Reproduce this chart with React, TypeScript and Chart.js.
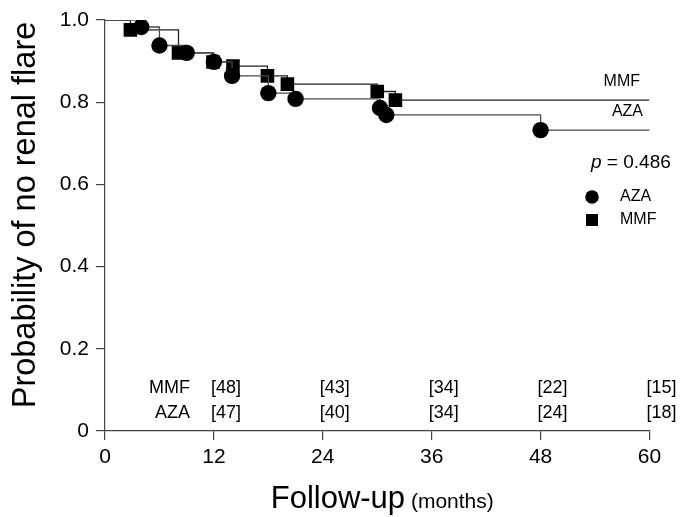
import React, { useEffect, useRef } from "react";
import { Chart, registerables } from "chart.js";

Chart.register(...registerables);

// Kaplan-Meier steps (months, survival probability)
const azaMonths = [0, 4, 6, 9, 12, 14, 18, 21, 30.3, 31, 48, 60];
const azaSurv = [1, 0.983, 0.938, 0.92, 0.898, 0.864, 0.822, 0.808, 0.786, 0.769, 0.732, 0.732];
const mmfMonths = [0, 2.8, 8.1, 11.9, 14.1, 17.9, 20.1, 30, 32, 60];
const mmfSurv = [1, 0.976, 0.92, 0.898, 0.888, 0.864, 0.844, 0.826, 0.805, 0.805];

// Numbers at risk
const riskMonths = [12, 24, 36, 48, 60];
const mmfAtRisk = [48, 43, 34, 22, 15];
const azaAtRisk = [47, 40, 34, 24, 18];

const xTicks = [0, 12, 24, 36, 48, 60];
const yTicks = [0, 0.2, 0.4, 0.6, 0.8, 1.0];
const pValue = "0.486";

const FONT = '"Liberation Sans", Arial, Helvetica, sans-serif';

const textPlugin = {
  id: "kmText",
  afterDraw(chart: any) {
    const ctx = chart.ctx;
    const xs = chart.scales.x;
    const ys = chart.scales.y;
    ctx.save();
    ctx.fillStyle = "#000";

    // y axis title
    ctx.save();
    ctx.translate(26, 215);
    ctx.rotate(-Math.PI / 2);
    ctx.font = `32.5px ${FONT}`;
    ctx.textAlign = "center";
    ctx.textBaseline = "middle";
    ctx.fillText("Probability of no renal flare", 0, 0);
    ctx.restore();

    // x axis title (mixed sizes)
    const big = "Follow-up";
    const small = " (months)";
    ctx.font = `31px ${FONT}`;
    const wBig = ctx.measureText(big).width;
    ctx.font = `21px ${FONT}`;
    const wSmall = ctx.measureText(small).width;
    const cx = (chart.chartArea.left + chart.chartArea.right) / 2 + 5;
    const startX = cx - (wBig + wSmall) / 2;
    const baseY = 508;
    ctx.textBaseline = "alphabetic";
    ctx.textAlign = "left";
    ctx.font = `31px ${FONT}`;
    ctx.fillText(big, startX, baseY);
    ctx.font = `21px ${FONT}`;
    ctx.fillText(small, startX + wBig, baseY);

    // at-risk table
    ctx.font = `18px ${FONT}`;
    ctx.textBaseline = "middle";
    ctx.textAlign = "right";
    ctx.fillText("MMF", 190, 388);
    ctx.fillText("AZA", 190, 413);
    ctx.textAlign = "left";
    riskMonths.forEach((m, i) => {
      const px = xs.getPixelForValue(m) - 3;
      ctx.fillText(`[${mmfAtRisk[i]}]`, px, 388);
      ctx.fillText(`[${azaAtRisk[i]}]`, px, 413);
    });

    // curve labels at the right
    ctx.font = `16px ${FONT}`;
    ctx.textAlign = "right";
    const yM = ys.getPixelForValue(mmfSurv[mmfSurv.length - 1]);
    const yA = ys.getPixelForValue(azaSurv[azaSurv.length - 1]);
    ctx.fillText("MMF", 640, yM - 19);
    ctx.fillText("AZA", 643, yA - 19);

    // p value
    ctx.textAlign = "left";
    ctx.font = `italic 19px ${FONT}`;
    ctx.fillText("p", 591, 163);
    const pw = ctx.measureText("p").width;
    ctx.font = `19px ${FONT}`;
    ctx.fillText(` = ${pValue}`, 591 + pw, 163);

    // legend
    ctx.beginPath();
    ctx.arc(592, 197, 6.8, 0, Math.PI * 2);
    ctx.fill();
    ctx.fillRect(586, 214, 12, 12);
    ctx.font = `16px ${FONT}`;
    ctx.fillText("AZA", 620, 197);
    ctx.fillText("MMF", 620, 220);

    ctx.restore();
  },
};

export default function App() {
  const ref = useRef<HTMLCanvasElement | null>(null);

  useEffect(() => {
    if (!ref.current) return;
    const mk = (months: number[], surv: number[]) => months.map((m, i) => ({ x: m, y: surv[i] }));
    const edgeRadius = (r: number, n: number) => (c: any) =>
      c.dataIndex === 0 || c.dataIndex === n - 1 ? 0 : r;

    const chart = new Chart(ref.current, {
      type: "line",
      data: {
        datasets: [
          {
            label: "AZA",
            data: mk(azaMonths, azaSurv),
            stepped: "before",
            borderColor: "#4a4a4a",
            borderWidth: 1.3,
            fill: false,
            pointStyle: "circle",
            pointRadius: edgeRadius(8.2, azaMonths.length),
            pointBackgroundColor: "#000",
            pointBorderColor: "#000",
            pointBorderWidth: 0,
          },
          {
            label: "MMF",
            data: mk(mmfMonths, mmfSurv),
            stepped: "before",
            borderColor: "#222",
            borderWidth: 1.3,
            fill: false,
            pointStyle: "rect",
            pointRadius: edgeRadius(9.6, mmfMonths.length),
            pointBackgroundColor: "#000",
            pointBorderColor: "#000",
            pointBorderWidth: 0,
          },
        ],
      },
      options: {
        animation: false,
        responsive: true,
        maintainAspectRatio: false,
        layout: { padding: { left: 0, top: 20, right: 36.5, bottom: 0 } },
        plugins: { legend: { display: false }, tooltip: { enabled: false } },
        scales: {
          x: {
            type: "linear",
            min: 0,
            max: 60,
            afterBuildTicks: (s: any) => {
              s.ticks = xTicks.map((v) => ({ value: v }));
            },
            afterFit: (s: any) => {
              s.height = 86;
            },
            ticks: {
              font: { size: 21, family: FONT },
              color: "#000",
              padding: 5,
              maxRotation: 0,
              autoSkip: false,
            },
            grid: { display: true, drawOnChartArea: false, drawTicks: true, tickLength: 9, color: "#444", lineWidth: 1.2 },
            border: { display: true, color: "#444", width: 1.2 },
          },
          y: {
            min: 0,
            max: 1,
            afterBuildTicks: (s: any) => {
              s.ticks = yTicks.map((v) => ({ value: v }));
            },
            afterFit: (s: any) => {
              s.width = 105;
            },
            ticks: {
              font: { size: 21, family: FONT },
              color: "#000",
              padding: 7,
              callback: (v: any) => (Number(v) === 0 ? "0" : Number(v).toFixed(1)),
            },
            grid: { display: true, drawOnChartArea: false, drawTicks: true, tickLength: 9, color: "#444", lineWidth: 1.2 },
            border: { display: true, color: "#444", width: 1.2 },
          },
        },
      },
      plugins: [textPlugin],
    });
    return () => chart.destroy();
  }, []);

  return (
    <div style={{ position: "fixed", left: 0, top: 0, width: 686, height: 517, background: "#fff" }}>
      <canvas ref={ref} />
    </div>
  );
}
